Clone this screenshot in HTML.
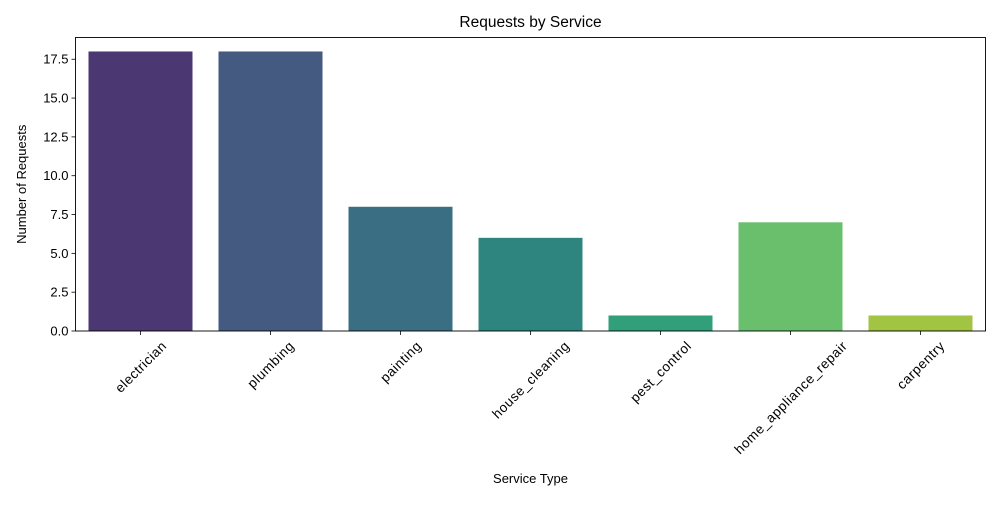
<!DOCTYPE html>
<html><head><meta charset="utf-8"><style>body{margin:0;background:#fff}svg text{font-family:"Liberation Sans","DejaVu Sans",sans-serif;fill:#000}</style></head>
<body>
<svg id="c" width="1000" height="500" xmlns="http://www.w3.org/2000/svg"></svg>
<script>
const categories=["electrician","plumbing","painting","house_cleaning","pest_control","home_appliance_repair","carpentry"];
const values=[18,18,8,6,1,7,1];
const colors=["#4b3771","#455a80","#3a6f83","#2e857f","#31a07a","#69bf6c","#a1c443"];
const yTicks=[0,2.5,5,7.5,10,12.5,15,17.5];
const yTickLabels=["0.0","2.5","5.0","7.5","10.0","12.5","15.0","17.5"];
const NS="http://www.w3.org/2000/svg",svg=document.getElementById("c");
const L=75.5,R=985.5,T=37.5,B=331,yMax=18.9;
const y=v=>B-v/yMax*(B-T);
const step=(R-L)/categories.length;
const x=i=>L+step*(i+0.5);
function mk(t,a,txt){const e=document.createElementNS(NS,t);for(const k in a)e.setAttribute(k,a[k]);if(txt!=null)e.textContent=txt;svg.appendChild(e);return e;}
categories.forEach((c,i)=>{
 const r=mk("rect",{x:x(i)-step*0.4,y:y(values[i]),width:step*0.8,height:B-y(values[i]),fill:colors[i]});
 
 
 const tk=mk("line",{x1:x(i),x2:x(i),y1:B,y2:B+4,stroke:"#000","stroke-width":0.8});
 
 
 const fs=13.5;
 const t=mk("text",{x:0,y:0,"font-size":fs,"text-anchor":"middle"},c);
 
 
 const w=t.getComputedTextLength()*1.08;
 const cy=B+8+(w+fs)*0.707/2, cx=x(i);
 t.setAttribute("x",cx);t.setAttribute("y",cy+fs*0.35);
 t.setAttribute("textLength",w);
 t.setAttribute("transform",`rotate(-45 ${cx} ${cy})`);
});
yTicks.forEach((v,i)=>{
 const tk=mk("line",{x1:L-4,x2:L,y1:y(v),y2:y(v),stroke:"#000","stroke-width":0.8});
 
 
 const t=mk("text",{x:L-7,y:y(v)+4.5,"font-size":13,"text-anchor":"end"},yTickLabels[i]);
 
 
});
const fr=mk("rect",{x:L,y:T,width:R-L,height:B-T,fill:"none",stroke:"#000","stroke-width":0.9});


const ti=mk("text",{x:(L+R)/2,y:27,"font-size":15.5,"text-anchor":"middle"},"Requests by Service");


const xt=mk("text",{x:(L+R)/2,y:483,"font-size":13,"text-anchor":"middle"},"Service Type");


const yt=mk("text",{x:26,y:(T+B)/2,"font-size":13,"text-anchor":"middle",transform:`rotate(-90 26 ${(T+B)/2})`},"Number of Requests");


</script>
</body></html>
